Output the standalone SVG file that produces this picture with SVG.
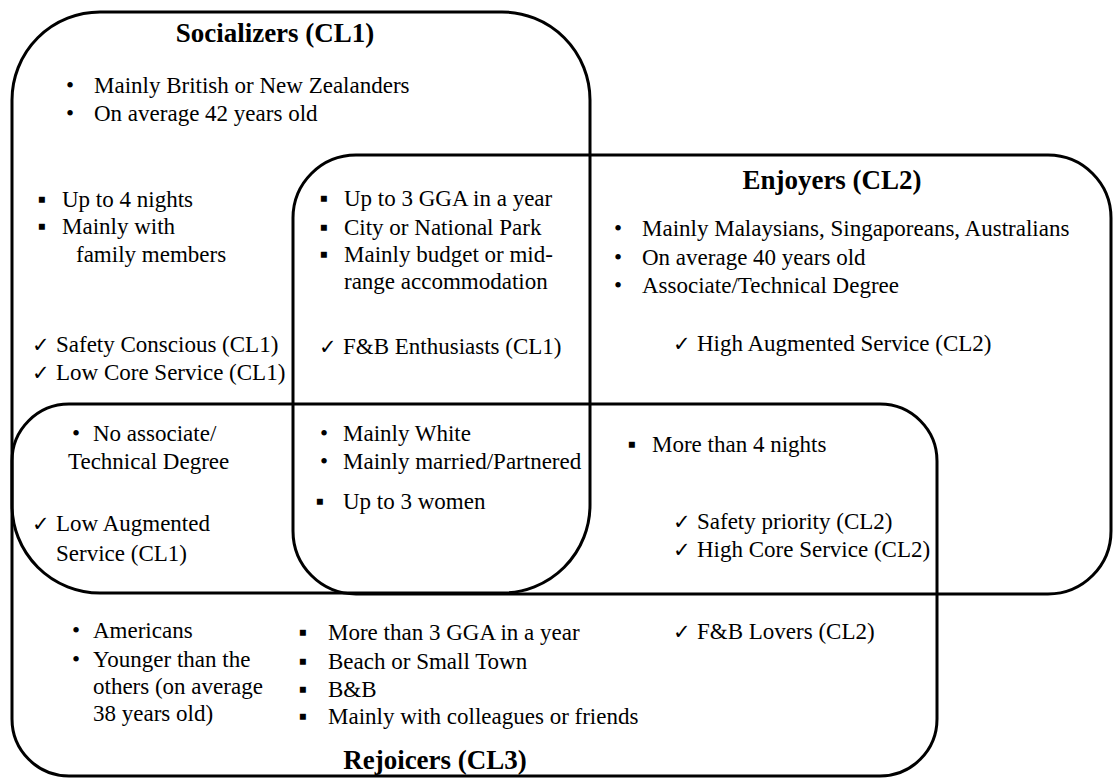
<svg xmlns="http://www.w3.org/2000/svg" width="1113" height="780" viewBox="0 0 1113 780">
<style>
.set{fill:none;stroke:#000;stroke-width:3}
text{font-family:"Liberation Serif","Times New Roman",serif;font-size:23px;fill:#000}
.title{font-size:27px;font-weight:bold;text-anchor:middle}
.b{text-anchor:middle}
.sq{text-anchor:middle;font-size:24px}
.ck{font-family:"DejaVu Sans",sans-serif;font-size:21px}
</style>
<rect width="1113" height="780" fill="#fff"/>
<g id="sets">
<rect id="cl1" class="set" x="12" y="12" width="578" height="581" rx="88" ry="88"/>
<rect id="cl2" class="set" x="293" y="155" width="818" height="439" rx="63" ry="63"/>
<rect id="cl3" class="set" x="12" y="404" width="925" height="372" rx="57" ry="57"/>
</g>
<g id="socializers">
<text class="title" x="275" y="42">Socializers (CL1)</text>
<text class="b" x="70" y="93">•</text><text x="94" y="93">Mainly British or New Zealanders</text>
<text class="b" x="70" y="121">•</text><text x="94" y="121">On average 42 years old</text>
<text class="sq" x="42" y="207">▪</text><text x="62" y="207">Up to 4 nights</text>
<text class="sq" x="42" y="234">▪</text><text x="62" y="234">Mainly with</text>
<text x="76" y="262">family members</text>
<text class="ck" x="32" y="352">✓</text><text x="56" y="352">Safety Conscious (CL1)</text>
<text class="ck" x="32" y="380">✓</text><text x="56" y="380">Low Core Service (CL1)</text>
</g>
<g id="cl1-cl2">
<text class="sq" x="324" y="206">▪</text><text x="344" y="206">Up to 3 GGA in a year</text>
<text class="sq" x="324" y="235">▪</text><text x="344" y="235">City or National Park</text>
<text class="sq" x="324" y="262">▪</text><text x="344" y="262">Mainly budget or mid-</text>
<text x="344" y="289">range accommodation</text>
<text class="ck" x="319" y="354">✓</text><text x="343" y="354">F&amp;B Enthusiasts (CL1)</text>
</g>
<g id="enjoyers">
<text class="title" x="832" y="189">Enjoyers (CL2)</text>
<text class="b" x="618" y="236">•</text><text x="642" y="236">Mainly Malaysians, Singaporeans, Australians</text>
<text class="b" x="618" y="265">•</text><text x="642" y="265">On average 40 years old</text>
<text class="b" x="618" y="293">•</text><text x="642" y="293">Associate/Technical Degree</text>
<text class="ck" x="673" y="351">✓</text><text x="697" y="351">High Augmented Service (CL2)</text>
</g>
<g id="cl1-cl3">
<text class="b" x="76" y="441">•</text><text x="93" y="441">No associate/</text>
<text x="68" y="469">Technical Degree</text>
<text class="ck" x="32" y="531">✓</text><text x="56" y="531">Low Augmented</text>
<text x="56" y="561">Service (CL1)</text>
</g>
<g id="cl1-cl2-cl3">
<text class="b" x="324" y="441">•</text><text x="343" y="441">Mainly White</text>
<text class="b" x="324" y="469">•</text><text x="343" y="469">Mainly married/Partnered</text>
<text class="sq" x="320" y="509">▪</text><text x="343" y="509">Up to 3 women</text>
</g>
<g id="cl2-cl3">
<text class="sq" x="632" y="452">▪</text><text x="652" y="452">More than 4 nights</text>
<text class="ck" x="673" y="529">✓</text><text x="697" y="529">Safety priority (CL2)</text>
<text class="ck" x="673" y="557">✓</text><text x="697" y="557">High Core Service (CL2)</text>
</g>
<g id="rejoicers">
<text class="b" x="76" y="638">•</text><text x="93" y="638">Americans</text>
<text class="b" x="76" y="667">•</text><text x="93" y="667">Younger than the</text>
<text x="93" y="694">others (on average</text>
<text x="93" y="721">38 years old)</text>
<text class="sq" x="303" y="640">▪</text><text x="328" y="640">More than 3 GGA in a year</text>
<text class="sq" x="303" y="669">▪</text><text x="328" y="669">Beach or Small Town</text>
<text class="sq" x="303" y="697">▪</text><text x="328" y="697">B&amp;B</text>
<text class="sq" x="303" y="724">▪</text><text x="328" y="724">Mainly with colleagues or friends</text>
<text class="ck" x="673" y="639">✓</text><text x="697" y="639">F&amp;B Lovers (CL2)</text>
<text class="title" x="435" y="769">Rejoicers (CL3)</text>
</g>
</svg>
